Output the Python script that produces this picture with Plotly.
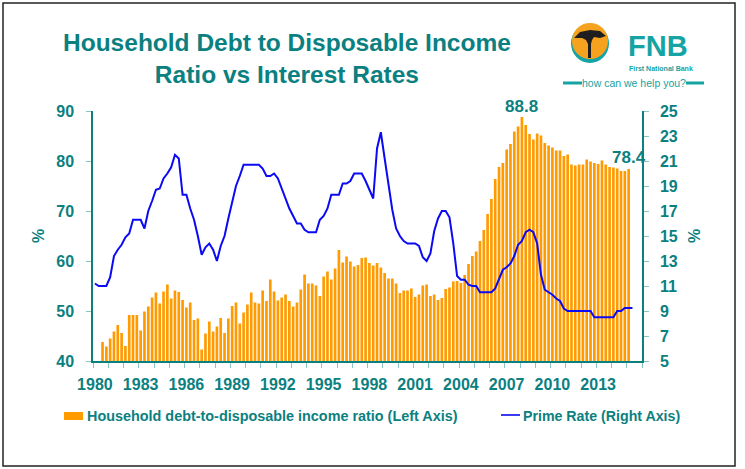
import plotly.graph_objects as go

# ---------------- data (quarterly, 1980Q1 .. 2015Q4) ----------------
quarter_labels = [f"{1980 + i // 4}Q{i % 4 + 1}" for i in range(144)]

debt_ratio = [None, None, 43.8, 42.9, 44.5, 45.9, 47.2, 45.6, 43.0, 49.2, 49.2, 49.2,
              46.1, 49.9, 50.9, 52.7, 53.7, 51.5, 53.9, 55.3, 52.5, 54.1, 53.8, 52.2,
              50.7, 51.7, 48.2, 48.5, 42.3, 45.5, 47.9, 45.9, 46.9, 48.6, 45.6, 48.5,
              51.0, 51.7, 47.5, 49.7, 51.3, 53.7, 51.7, 51.5, 54.1, 52.0, 56.3, 53.9,
              52.1, 52.7, 53.3, 52.0, 50.9, 51.7, 54.3, 57.3, 55.5, 55.5, 55.1, 53.0,
              56.9, 57.9, 56.3, 58.5, 62.2, 59.7, 60.9, 59.9, 58.9, 59.2, 60.6, 60.7,
              59.6, 59.1, 59.6, 58.7, 57.6, 56.5, 56.5, 55.5, 53.6, 54.1, 54.1, 54.5,
              52.8, 53.3, 55.1, 55.3, 53.0, 53.3, 52.2, 52.6, 54.4, 54.7, 55.9, 56.0,
              55.6, 57.2, 59.4, 61.0, 61.9, 64.0, 66.2, 69.4, 72.4, 76.4, 78.8, 79.6,
              82.3, 83.4, 85.9, 86.9, 88.8, 87.2, 85.4, 84.3, 85.5, 85.1, 83.6, 83.1,
              82.7, 82.1, 82.1, 81.0, 81.3, 79.3, 79.1, 79.3, 79.3, 80.3, 79.9, 79.6,
              79.4, 80.1, 79.3, 78.8, 78.7, 78.5, 78.0, 78.0, 78.4, None, None, None]

prime_rate = [11.2, 11.0, 11.0, 11.0, 11.7, 13.4, 13.9, 14.3, 14.9, 15.2, 16.3, 16.3,
              16.3, 15.6, 17.0, 17.8, 18.7, 18.8, 19.6, 20.0, 20.5, 21.5, 21.2, 18.3,
              18.3, 17.2, 16.3, 15.0, 13.5, 14.1, 14.4, 13.9, 13.0, 14.2, 15.0, 16.4,
              17.8, 19.0, 19.8, 20.7, 20.7, 20.7, 20.7, 20.7, 20.4, 19.8, 19.8, 20.0,
              19.6, 18.8, 17.9, 17.2, 16.6, 16.0, 16.0, 15.5, 15.3, 15.3, 15.3, 16.3,
              16.6, 17.2, 18.3, 18.3, 18.3, 19.2, 19.2, 19.4, 20.0, 20.0, 20.0, 19.4,
              18.7, 18.0, 22.0, 23.3, 21.2, 19.1, 17.1, 15.6, 15.0, 14.6, 14.4, 14.4,
              14.4, 14.2, 13.3, 13.0, 13.6, 15.4, 16.4, 17.0, 17.0, 16.5, 14.4, 11.8,
              11.5, 11.5, 11.1, 11.0, 11.0, 10.5, 10.5, 10.5, 10.5, 10.8, 11.5, 12.3,
              12.5, 12.8, 13.4, 14.3, 14.6, 15.3, 15.5, 15.3, 14.4, 11.9, 10.7, 10.5,
              10.3, 10.0, 9.8, 9.2, 9.0, 9.0, 9.0, 9.0, 9.0, 9.0, 9.0, 8.5,
              8.5, 8.5, 8.5, 8.5, 8.5, 9.0, 9.0, 9.25, 9.25, 9.25]

year_labels = [str(y) for y in range(1980, 2014, 3)]
year_label_pos = [(int(y) - 1980) * 4 for y in year_labels]
left_ticks = [40, 50, 60, 70, 80, 90]
right_ticks = list(range(5, 26, 2))

highlight = {112: "88.8", 140: "78.4"}

TEAL = "#0B8080"
LOGO_TEAL = "#15A3A3"
TICKC = "#8CC4C4"
ORANGE = "#FF9A00"
FONT = "Arial, Liberation Sans, sans-serif"

W, H = 745, 469
L, R, T, B = 93, 103, 111, 108
PW, PH = W - L - R, H - T - B


def px(x):
    return (x - L) / PW


def py(y):
    return (H - B - y) / PH


n = len(quarter_labels)
xs = list(range(n))

fig = go.Figure()
fig.add_trace(go.Bar(x=xs, y=debt_ratio, marker=dict(color=ORANGE, line=dict(width=0)),
                     name="Household debt-to-disposable income ratio (Left Axis)",
                     hovertext=quarter_labels))
fig.add_trace(go.Scatter(x=list(range(len(prime_rate))), y=prime_rate, yaxis="y2",
                         mode="lines", line=dict(color="#0A0AF5", width=2),
                         name="Prime Rate (Right Axis)", hovertext=quarter_labels))

annotations = []
for i, txt in highlight.items():
    annotations.append(dict(x=i, y=debt_ratio[i], xref="x", yref="y", text=txt,
                            showarrow=False, yanchor="middle", xanchor="center",
                            yshift=11 if i == 112 else 12,
                            font=dict(size=17, color=TEAL, family=FONT, weight="bold")))

# title
annotations.append(dict(x=px(287), y=py(58), xref="paper", yref="paper",
                        text="Household Debt to Disposable Income<br>Ratio vs Interest Rates",
                        showarrow=False, xanchor="center", yanchor="middle",
                        font=dict(size=24.5, color=TEAL, family=FONT, weight="bold")))
# axis titles
for xpix in (38, 694):
    annotations.append(dict(x=px(xpix), y=py(236), xref="paper", yref="paper", text="%",
                            textangle=-90, showarrow=False, xanchor="center",
                            yanchor="middle",
                            font=dict(size=16, color=TEAL, family=FONT, weight="bold")))
# legend texts
annotations.append(dict(x=px(85), y=py(416), xref="paper", yref="paper",
                        text="Household debt-to-disposable income ratio (Left Axis)",
                        showarrow=False, xanchor="left", yanchor="middle",
                        font=dict(size=14.4, color=TEAL, family=FONT, weight="bold")))
annotations.append(dict(x=px(521), y=py(416), xref="paper", yref="paper",
                        text="Prime Rate (Right Axis)",
                        showarrow=False, xanchor="left", yanchor="middle",
                        font=dict(size=14.2, color=TEAL, family=FONT, weight="bold")))
# logo texts
annotations.append(dict(x=px(627), y=py(46), xref="paper", yref="paper", text="FNB",
                        showarrow=False, xanchor="left", yanchor="middle", borderpad=0,
                        font=dict(size=29, color=LOGO_TEAL, family=FONT, weight="bold")))
annotations.append(dict(x=px(628), y=py(68), xref="paper", yref="paper",
                        text="First National Bank", showarrow=False, xanchor="left",
                        yanchor="middle", borderpad=0,
                        font=dict(size=7, color=LOGO_TEAL, family=FONT, weight="bold")))
annotations.append(dict(x=px(634), y=py(83), xref="paper", yref="paper",
                        text="how can we help you?", showarrow=False, xanchor="center",
                        yanchor="middle", borderpad=0,
                        font=dict(size=10.5, color=LOGO_TEAL, family=FONT)))

shapes = [
    # outer border
    dict(type="rect", xref="paper", yref="paper", x0=px(3), x1=px(735), y0=py(3), y1=py(466),
         line=dict(color="#222222", width=1.5)),
    # legend markers
    dict(type="rect", xref="paper", yref="paper", x0=px(64), x1=px(83), y0=py(412), y1=py(420),
         fillcolor=ORANGE, line=dict(width=0)),
    dict(type="line", xref="paper", yref="paper", x0=px(501), x1=px(520), y0=py(415), y1=py(415),
         line=dict(color="#3A3AF0", width=2)),
    # logo: circle
    dict(type="circle", xref="paper", yref="paper", x0=px(571), x1=px(609), y0=py(24), y1=py(63),
         fillcolor=LOGO_TEAL, line=dict(width=0)),
    dict(type="circle", xref="paper", yref="paper", x0=px(572), x1=px(608), y0=py(23), y1=py(59),
         fillcolor="#F6A21E", line=dict(width=0)),
    # logo bars
    dict(type="line", xref="paper", yref="paper", x0=px(563), x1=px(582), y0=py(83), y1=py(83),
         line=dict(color=LOGO_TEAL, width=3)),
    dict(type="line", xref="paper", yref="paper", x0=px(686), x1=px(704), y0=py(83), y1=py(83),
         line=dict(color=LOGO_TEAL, width=3)),
]

# tree silhouette in the logo
tree_pts = [(574, 38), (580, 32), (590, 30), (600, 31), (606, 36), (600, 38), (594, 37),
            (592, 40), (591, 44), (591, 58), (588, 58), (588, 44), (586, 40), (582, 38)]
path = "M " + " L ".join(f"{px(a):.5f},{py(b):.5f}" for a, b in tree_pts) + " Z"
shapes.append(dict(type="path", xref="paper", yref="paper", path=path,
                   fillcolor="#1E1E1E", line=dict(width=0)))

fig.update_layout(
    width=W, height=H, margin=dict(l=L, r=R, t=T, b=B, autoexpand=False),
    paper_bgcolor="white", plot_bgcolor="white", showlegend=False,
    bargap=0.3, font=dict(family=FONT, color=TEAL),
    xaxis=dict(range=[-0.5, n - 0.5], tickmode="array", tickvals=year_label_pos,
               ticktext=year_labels, ticks="", showgrid=False, zeroline=False,
               showline=True, linecolor=TEAL, linewidth=1.5,
               tickfont=dict(size=16, color=TEAL, family=FONT, weight="bold"),
               ticklabelstandoff=8,
               minor=dict(tickmode="array", tickvals=[k - 0.5 for k in range(0, n + 1, 4)],
                          ticks="outside", ticklen=5, tickcolor=TICKC, tickwidth=1,
                          showgrid=False)),
    yaxis=dict(range=[40, 90], tickvals=left_ticks, ticks="outside", ticklen=5,
               tickcolor=TICKC, showgrid=False, zeroline=False, showline=True,
               linecolor=TEAL, linewidth=1.5, ticklabelstandoff=9,
               tickfont=dict(size=16, color=TEAL, family=FONT, weight="bold")),
    yaxis2=dict(range=[5, 25], tickvals=right_ticks, overlaying="y", side="right",
                ticks="outside", ticklen=5, tickcolor=TICKC, showgrid=False, zeroline=False,
                showline=True, linecolor=TEAL, linewidth=1.5, ticklabelstandoff=8,
                tickfont=dict(size=16, color=TEAL, family=FONT, weight="bold")),
    annotations=annotations, shapes=shapes,
)

fig.write_html("out.html")
